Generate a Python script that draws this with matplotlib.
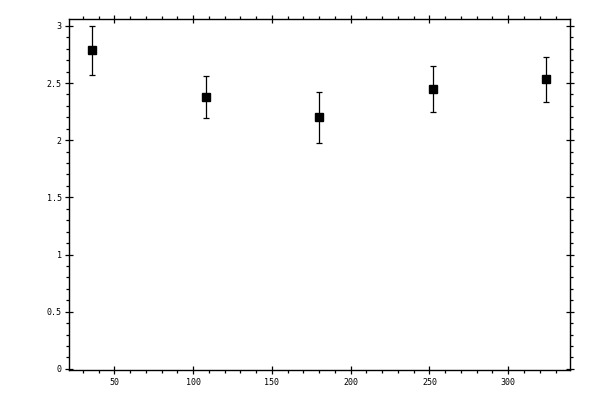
import numpy as np
import matplotlib
matplotlib.use('Agg')
import matplotlib.pyplot as plt
from matplotlib.ticker import MultipleLocator

# values
x_vals = [36, 108, 180, 252, 324]
y_vals = [2.786, 2.375, 2.200, 2.445, 2.532]
y_err = [0.214, 0.184, 0.222, 0.201, 0.198]

plt.rcParams['font.family'] = ['DejaVu Sans Mono']

fig = plt.figure(figsize=(6, 4), dpi=100)
ax = fig.add_axes([0.1155, 0.075, 0.8345, 0.8775])

ax.errorbar(x_vals, y_vals, yerr=y_err, fmt='s', color='black',
            markersize=5.2, elinewidth=0.9, capsize=2, capthick=0.9)

ax.set_xlim(21.4, 339.2)
ax.set_ylim(-0.01, 3.06)

ax.xaxis.set_major_locator(MultipleLocator(50))
ax.xaxis.set_minor_locator(MultipleLocator(10))
ax.yaxis.set_major_locator(MultipleLocator(0.5))
ax.yaxis.set_minor_locator(MultipleLocator(0.1))
ax.yaxis.set_major_formatter(plt.FuncFormatter(lambda v, p: '%g' % v))

ax.tick_params(which='major', direction='inout', length=6, width=0.9,
               top=True, right=True, labelsize=6, pad=2.5)
ax.tick_params(which='minor', direction='out', length=2.5, width=0.9,
               top=True, right=True)
for s in ax.spines.values():
    s.set_linewidth(1.0)

fig.savefig('out.png', dpi=100)
